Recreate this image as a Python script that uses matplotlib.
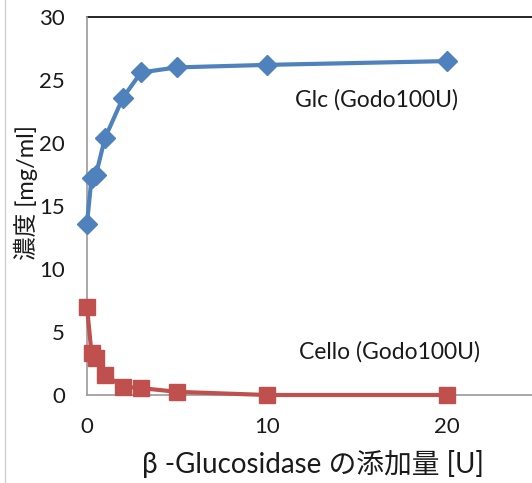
import matplotlib
matplotlib.use("Agg")
import matplotlib.pyplot as plt
from matplotlib.lines import Line2D

plt.rcParams['font.family'] = ['Lato', 'Noto Sans CJK JP', 'DejaVu Sans']

# β-glucosidase dose [U]
dose = [0, 0.25, 0.5, 1, 2, 3, 5, 10, 20]
# Glucose concentration [mg/ml]
glc = [13.6, 17.2, 17.5, 20.4, 23.6, 25.6, 26.0, 26.2, 26.5]
# Cellobiose concentration [mg/ml]
cello = [7.0, 3.3, 2.9, 1.6, 0.65, 0.55, 0.25, 0.0, 0.0]

x_ticks = [0, 10, 20]
y_ticks = [0, 5, 10, 15, 20, 25, 30]

W, H = 532, 483
fig = plt.figure(figsize=(W / 100, H / 100), dpi=100)
fig.patch.set_facecolor('white')

left_px, right_px = 87, 537
bottom_px, top_px = 395, 17
ax = fig.add_axes([left_px / W, (H - bottom_px) / H,
                   (right_px - left_px) / W, (bottom_px - top_px) / H])
ax.set_xlim(0, 25)
ax.set_ylim(0, 30)

blue = '#4F81BD'
red = '#C0504D'
ax.plot(dose, glc, color=blue, lw=3, marker='D', ms=10, mec=blue, mfc=blue,
        zorder=3, clip_on=False)
ax.plot(dose, cello, color=red, lw=3, marker='s', ms=12, mec=red, mfc=red,
        zorder=3, clip_on=False)

txt_color = '#1a1a1a'
ax.text(16.1, 23.4, 'Glc (Godo100U)', fontsize=16.5, ha='center', va='center',
        color=txt_color)
ax.text(16.8, 3.4, 'Cello (Godo100U)', fontsize=16.5, ha='center', va='center',
        color=txt_color)

for side in ['right', 'top']:
    ax.spines[side].set_visible(False)
for side in ['left', 'bottom']:
    ax.spines[side].set_color('#9a9a9a')
    ax.spines[side].set_linewidth(1.2)
ax.axhline(30, color='black', lw=1.2, clip_on=False, zorder=2)

ax.set_xticks(x_ticks)
ax.set_yticks(y_ticks)
ax.tick_params(axis='both', length=0, labelsize=16, colors=txt_color)
ax.tick_params(axis='x', pad=16)
ax.tick_params(axis='y', pad=16)

fig.text(313 / W, 1 - 464 / H, 'β -Glucosidase の添加量 [U]', fontsize=20,
         ha='center', va='center', color=txt_color)
fig.text(26 / W, 1 - 193 / H, '濃度 [mg/ml]', fontsize=17,
         rotation=90, ha='center', va='center', color=txt_color)

fig.add_artist(Line2D([4.5 / W, 4.5 / W], [0, 1], color='#d0d0d0', lw=1,
                      transform=fig.transFigure))

fig.savefig('out.png', dpi=100, facecolor='white')
